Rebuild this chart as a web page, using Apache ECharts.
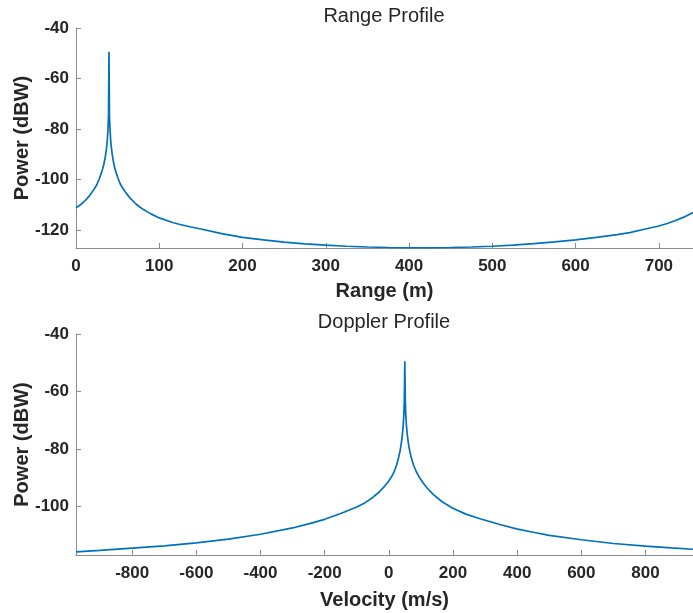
<!DOCTYPE html>
<html>
<head>
<meta charset="utf-8">
<script src="https://cdn.jsdelivr.net/npm/echarts@6/dist/echarts.min.js"></script>
<style>html,body{margin:0;padding:0;background:#fff}#c{width:693px;height:613px}</style>
</head>
<body>
<div id="c"></div>
<script>
// Range profile: [range (m), power (dBW)]
const rangeProfile = [
  [0,-111.1],[5,-110.0],[10,-108.6],[15,-106.8],[20,-104.6],[25,-102.0],[28,-99.6],[31,-96.8],
  [33,-94.5],[35,-91.3],[36.5,-88.0],[37.6,-84.5],[38.4,-80.0],[39.0,-75.0],[39.6,-49.4],
  [40.2,-75.0],[41.0,-81.0],[42.0,-86.0],[43.5,-90.0],[45,-93.0],[47,-96.0],[50,-99.0],
  [53,-101.6],[57,-103.8],[61,-105.6],[65,-107.3],[72,-109.6],[80,-111.6],[90,-113.5],
  [100,-115.1],[115,-116.8],[125,-117.7],[137,-118.6],[150,-119.5],[175,-121.3],[200,-122.8],
  [225,-123.8],[250,-124.7],[275,-125.4],[300,-125.9],[325,-126.3],[350,-126.6],[375,-126.8],
  [400,-126.9],[425,-126.9],[450,-126.8],[475,-126.6],[500,-126.3],[525,-125.9],[550,-125.3],
  [575,-124.6],[600,-123.8],[625,-122.8],[650,-121.7],[665,-120.9],[680,-119.8],[700,-118.3],
  [710,-117.3],[720,-116.1],[730,-114.8],[741,-113.0]
];
// Doppler profile: [velocity (m/s), power (dBW)]
const dopplerProfile = [
  [-975,-115.7],[-900,-115.2],[-800,-114.4],[-700,-113.6],[-600,-112.6],[-500,-111.3],
  [-400,-109.6],[-300,-107.4],[-250,-106.0],[-200,-104.4],[-150,-102.4],[-100,-100.1],
  [-75,-98.7],[-50,-96.8],[-30,-94.9],[-15,-93.1],[-3,-91.5],[8,-89.7],[17,-87.7],[24,-85.6],
  [30,-83.2],[35,-80.6],[39,-77.9],[41.8,-75.4],[44.8,-71.8],[46.8,-68.0],[48.3,-63.0],
  [49.8,-49.5],[51.3,-63.0],[52.8,-68.0],[54.8,-71.8],[57.8,-75.2],[61,-78.0],[65,-80.6],
  [70,-83.0],[77,-85.6],[85,-87.7],[95,-89.8],[107,-91.8],[120,-93.6],[139,-95.8],
  [165,-98.2],[198,-100.5],[240,-102.6],[284,-104.2],[346,-106.2],[398,-107.7],[450,-108.9],
  [500,-110.0],[600,-111.5],[700,-112.8],[800,-113.7],[880,-114.3],[948,-114.8]
];
const titles = ['Range Profile', 'Doppler Profile'];
const xNames = ['Range (m)', 'Velocity (m/s)'];
const yName = 'Power (dBW)';

const TXT = '#262626';
const AX = '#8c8c8c';
const FONT = '"Liberation Sans", Arial, sans-serif';

function xAxis(idx, min, max, split, name, gap) {
  return {
    type: 'value', gridIndex: idx, min: min, max: max, splitNumber: split,
    name: name, nameLocation: 'middle', nameGap: gap, nameMoveOverlap: false,
    nameTextStyle: {color: TXT, fontSize: 20, fontWeight: 'bold', fontFamily: FONT},
    axisLine: {show: true, onZero: false, lineStyle: {color: AX, width: 1}},
    axisTick: {show: true, inside: true, length: 5, lineStyle: {color: AX}},
    splitLine: {show: false},
    axisLabel: {color: TXT, fontSize: 17, fontWeight: 'bold', fontFamily: FONT, margin: 10,
      showMinLabel: min % 100 === 0, showMaxLabel: false, hideOverlap: false}
  };
}
function yAxis(idx, min, max) {
  return {
    type: 'value', gridIndex: idx, min: min, max: max, splitNumber: 4,
    name: yName, nameLocation: 'middle', nameGap: 44, nameMoveOverlap: false,
    nameTextStyle: {color: TXT, fontSize: 20, fontWeight: 'bold', fontFamily: FONT},
    axisLine: {show: true, onZero: false, lineStyle: {color: AX, width: 1}},
    axisTick: {show: true, inside: true, length: 5, lineStyle: {color: AX}},
    splitLine: {show: false},
    axisLabel: {color: TXT, fontSize: 17, fontWeight: 'bold', fontFamily: FONT, margin: 7,
      showMinLabel: false, showMaxLabel: true}
  };
}

const chart = echarts.init(document.getElementById('c'), null, {renderer: 'canvas'});
chart.setOption({
  animation: false,
  backgroundColor: '#fff',
  grid: [
    {left: 76, top: 28, width: 617, height: 220, containLabel: false, outerBoundsMode: 'none'},
    {left: 76, top: 334, width: 617, height: 221, containLabel: false, outerBoundsMode: 'none'}
  ],
  xAxis: [xAxis(0, 0, 741, 7, xNames[0], 33), xAxis(1, -975, 948, 10, xNames[1], 35)],
  yAxis: [yAxis(0, -127, -40), yAxis(1, -116.8, -40)],
  graphic: [
    {type: 'text', x: 384, y: 16, style: {text: titles[0], align: 'center', verticalAlign: 'middle',
      font: '20px ' + FONT, fill: TXT}},
    {type: 'text', x: 384, y: 322, style: {text: titles[1], align: 'center', verticalAlign: 'middle',
      font: '20px ' + FONT, fill: TXT}}
  ],
  series: [
    {type: 'line', xAxisIndex: 0, yAxisIndex: 0, data: rangeProfile, showSymbol: false,
      lineStyle: {color: '#0072BD', width: 1.7}, clip: true},
    {type: 'line', xAxisIndex: 1, yAxisIndex: 1, data: dopplerProfile, showSymbol: false,
      lineStyle: {color: '#0072BD', width: 1.7}, clip: true}
  ]
});
</script>
</body>
</html>
